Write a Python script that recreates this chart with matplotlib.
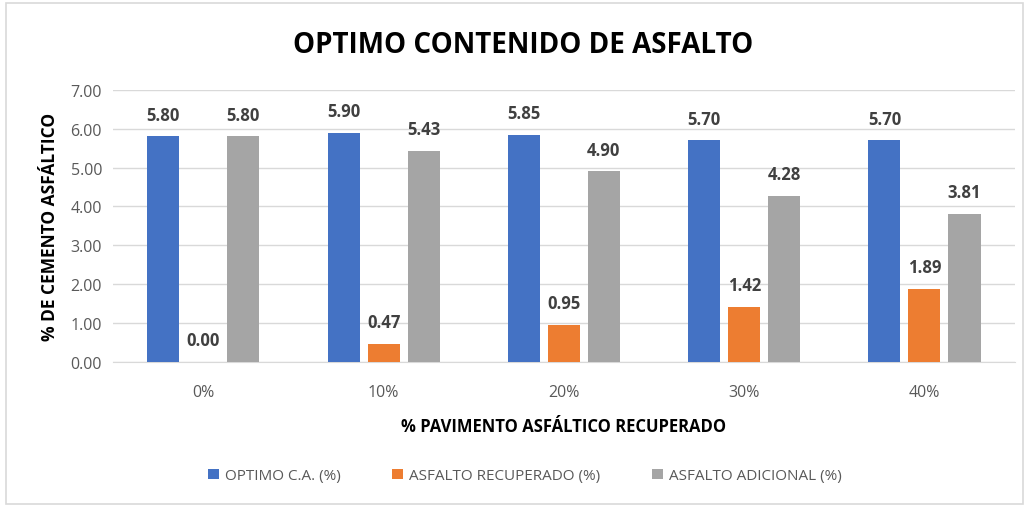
import numpy as np
import matplotlib
matplotlib.use("Agg")
import matplotlib.pyplot as plt
from matplotlib.patches import Rectangle

# data
categorias = ["0%", "10%", "20%", "30%", "40%"]
optimo_ca = [5.80, 5.90, 5.85, 5.70, 5.70]
asfalto_recuperado = [0.00, 0.47, 0.95, 1.42, 1.89]
asfalto_adicional = [5.80, 5.43, 4.90, 4.28, 3.81]

series = [
    ("OPTIMO C.A. (%)", optimo_ca, "#4472C4"),
    ("ASFALTO RECUPERADO (%)", asfalto_recuperado, "#ED7D31"),
    ("ASFALTO ADICIONAL (%)", asfalto_adicional, "#A5A5A5"),
]

plt.rcParams['font.family'] = ['Open Sans', 'DejaVu Sans']

fig = plt.figure(figsize=(10.29, 5.10), dpi=100)
ax = fig.add_axes([0.110, 0.288, 0.876, 0.534])

# light frame around the chart, like the excel chart area
fig.patches.append(Rectangle((0.006, 0.01), 0.988, 0.982, transform=fig.transFigure,
                             fill=False, edgecolor="#d9d9d9", lw=1.2))

x = np.arange(len(categorias))
w = 0.178
step = 0.222
for i, (name, vals, col) in enumerate(series):
    pos = x + (i - 1) * step
    bars = ax.bar(pos, vals, width=w, color=col, label=name, zorder=3)
    for b, v in zip(bars, vals):
        ax.text(b.get_x() + b.get_width() / 2, v + 0.33, f"{v:.2f}", ha="center", va="bottom",
                fontsize=12, fontweight="bold", color="#404040")

ax.set_xlim(-0.5, 4.5)
ax.set_ylim(0, 7)
ax.set_yticks(np.arange(0, 7.01, 1.0))
ax.set_yticklabels([f"{t:.2f}" for t in np.arange(0, 7.01, 1.0)])
ax.set_xticks(x)
ax.set_xticklabels(categorias)
ax.tick_params(axis="both", length=0, labelsize=11.5, labelcolor="#595959")
ax.tick_params(axis="x", pad=16)
ax.tick_params(axis="y", pad=8)
ax.grid(axis="y", color="#d9d9d9", lw=1, zorder=0)
for s in ["top", "right", "left"]:
    ax.spines[s].set_visible(False)
ax.spines["bottom"].set_color("#d9d9d9")

ax.set_xlabel("% PAVIMENTO ASFÁLTICO RECUPERADO", fontsize=12, fontweight="bold", labelpad=12)
ax.set_ylabel("% DE CEMENTO ASFÁLTICO", fontsize=12.5, fontweight="bold", labelpad=8)

fig.text(0.508, 0.91, "OPTIMO CONTENIDO DE ASFALTO", ha="center", va="center",
         fontsize=20, fontweight="bold", color="black")

fig.legend(loc="center", bbox_to_anchor=(0.51, 0.065), ncol=3, frameon=False,
           fontsize=11, handlelength=0.7, handleheight=0.7, columnspacing=3.4,
           handletextpad=0.4, labelcolor="#595959")

fig.savefig("out.png", dpi=100)
